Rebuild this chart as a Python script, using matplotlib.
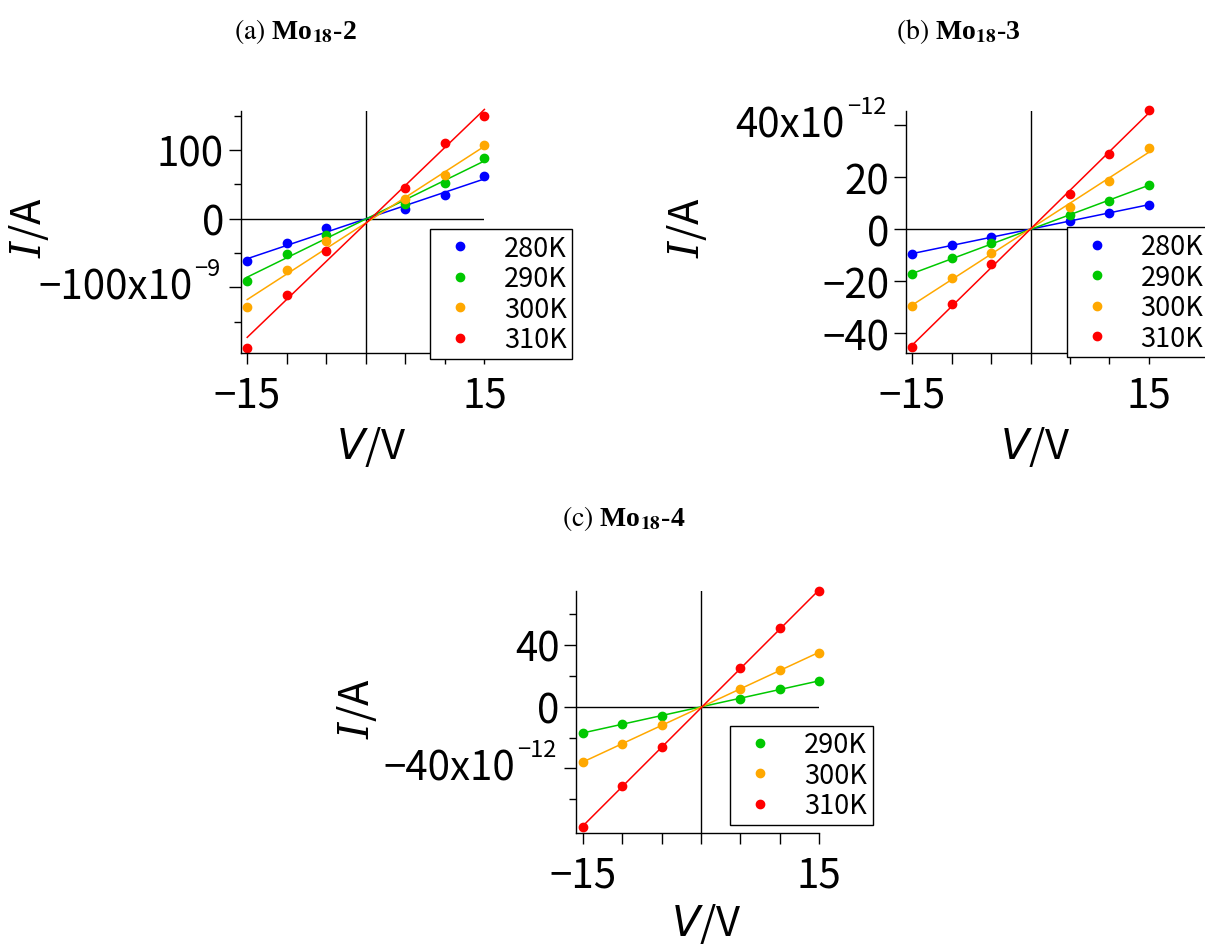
import matplotlib
matplotlib.use('Agg')
import matplotlib.pyplot as plt
import numpy as np

plt.rcParams['font.family'] = ['Noto Sans CJK JP', 'DejaVu Sans']
plt.rcParams['mathtext.fontset'] = 'custom'
plt.rcParams['mathtext.rm'] = 'Noto Sans CJK JP'
plt.rcParams['mathtext.it'] = 'DejaVu Serif:italic'
plt.rcParams['mathtext.sf'] = 'DejaVu Sans:italic'

W, H = 1205, 945

# voltages (V)
volts = [-15, -10, -5, 5, 10, 15]

# (a) Mo18-2, current in nA
a_280 = [-62, -36, -14, 14, 35, 62]
a_290 = [-90, -52, -23, 21, 52, 89]
a_300 = [-128, -75, -32, 28, 63, 107]
a_310 = [-188, -111, -47, 45, 110, 150]

# (b) Mo18-3, current in pA
b_280 = [-9.5, -6.2, -2.8, 3.1, 6.2, 9.5]
b_290 = [-17.2, -11.2, -5.4, 5.3, 11.0, 17.2]
b_300 = [-29.4, -18.7, -9.0, 8.7, 18.6, 31.2]
b_310 = [-45.4, -28.8, -13.5, 13.5, 28.8, 46.0]

# (c) Mo18-4, current in pA
c_290 = [-17.1, -11.2, -5.8, 5.2, 11.2, 16.9]
c_300 = [-36.1, -24.0, -12.1, 11.7, 24.0, 34.8]
c_310 = [-78.3, -51.5, -25.9, 24.9, 51.2, 74.8]

colors = {'280K': '#0000ff', '290K': '#00c800', '300K': '#ffa800', '310K': '#ff0000'}


def px(x, y):
    # pixel position -> figure fraction
    return x / W, 1 - y / H


fig = plt.figure(figsize=(W / 100, H / 100), dpi=100)


def panel(box, series, ylim, major, labels, minor, exp_tick, exp_main, exp_sup,
          leg_xy, title, title_xy, ylab_xy, xlab_xy):
    l, t, r, b = box
    ax = fig.add_axes([l / W, 1 - b / H, (r - l) / W, (b - t) / H])

    ax.axhline(0, color='black', lw=1)
    ax.axvline(0, color='black', lw=1)

    fit_x = np.array([-15, 15])
    for name, vals in series:
        k, c0 = np.polyfit(volts, vals, 1)
        ax.plot(fit_x, k * fit_x + c0, color=colors[name], lw=1.1, clip_on=False)
        ax.plot(volts, vals, 'o', color=colors[name], ms=6, clip_on=False, label=name)

    ax.set_xlim(-15.8, 15)
    ax.set_ylim(*ylim)
    ax.set_xticks([-15, -10, -5, 0, 5, 10, 15], ['−15', '', '', '', '', '', '15'])
    ax.set_yticks(major, labels)
    ax.set_yticks(minor, minor=True)
    ax.tick_params(axis='y', which='major', length=8.6, width=1, pad=3.5, labelsize=29)
    ax.tick_params(axis='y', which='minor', length=5, width=1)
    ax.tick_params(axis='x', length=8, width=1, pad=7, labelsize=29)
    for s in ['top', 'right']:
        ax.spines[s].set_visible(False)
    for s in ['left', 'bottom']:
        ax.spines[s].set_linewidth(1)

    # Igor style exponent label
    sup = ax.annotate(exp_sup, xy=(0, exp_tick), xycoords=ax.get_yaxis_transform(),
                      xytext=(-14.5, 13.5), textcoords='offset points',
                      ha='right', va='center', fontsize=17, annotation_clip=False)
    ax.annotate(exp_main, xy=(0, 0.5), xycoords=sup, xytext=(-1.5, -13.5),
                textcoords='offset points', ha='right', va='center', fontsize=29,
                annotation_clip=False)

    ax.legend(loc='upper left', bbox_to_anchor=px(*leg_xy), bbox_transform=fig.transFigure,
              fontsize=19.5, frameon=True, fancybox=False, edgecolor='black', framealpha=1,
              borderaxespad=0, borderpad=0.21, handlelength=1.8, handletextpad=0.72,
              labelspacing=0.13, markerscale=1)
    ax.get_legend().get_frame().set_linewidth(1)

    fig.text(*px(*title_xy), title, ha='center', va='baseline', fontsize=20,
             family='Liberation Serif', weight='bold', math_fontfamily='stix')
    fig.text(*px(*ylab_xy), r'$\mathit{I}$/A', rotation=90, ha='center', va='center', fontsize=30)
    fig.text(*px(*xlab_xy), r'$\mathsf{V}$/V', ha='center', va='center', fontsize=30)
    return ax


panel((240.9, 111.7, 484.4, 354.3),
      [('280K', a_280), ('290K', a_290), ('300K', a_300), ('310K', a_310)],
      (-195.9, 157.2), [-100, 0, 100], ['', '0', '100'], [-150, -50, 50, 150],
      -100, '−100x10', '−9', (429.8, 230),
      r'$\mathrm{(a)}$ Mo$_{\mathbf{18}}$-2', (295, 39), (29, 228), (371, 447.5))

panel((906, 111.7, 1148.8, 354.3),
      [('280K', b_280), ('290K', b_290), ('300K', b_300), ('310K', b_310)],
      (-47.7, 45.6), [-40, -20, 0, 20, 40], ['−40', '−20', '0', '20', ''], [],
      40, '40x10', '−12', (1066.7, 228.3),
      r'$\mathrm{(b)}$ Mo$_{\mathbf{18}}$-3', (958, 39), (687, 228), (1035, 447))

panel((576.4, 591.7, 819.3, 834.3),
      [('290K', c_290), ('300K', c_300), ('310K', c_310)],
      (-82.1, 75.2), [-40, 0, 40], ['', '0', '40'], [-60, -20, 20, 60],
      -40, '−40x10', '−12', (730, 726.7),
      r'$\mathrm{(c)}$ Mo$_{\mathbf{18}}$-4', (624, 526), (357, 709), (706, 924))

fig.savefig('out.png', dpi=100)
